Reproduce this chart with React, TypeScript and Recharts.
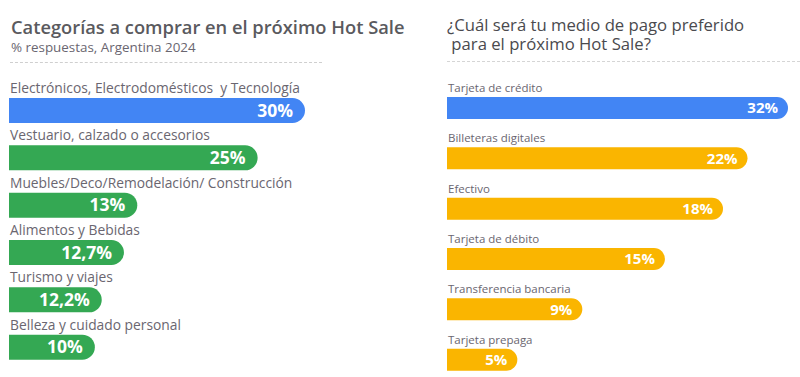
import React from "react";
import { BarChart, Bar, XAxis, YAxis, Cell, LabelList } from "recharts";

// Left panel: categories to buy
const leftCategories = [
  "Electrónicos, Electrodomésticos  y Tecnología",
  "Vestuario, calzado o accesorios",
  "Muebles/Deco/Remodelación/ Construcción",
  "Alimentos y Bebidas",
  "Turismo y viajes",
  "Belleza y cuidado personal",
];
// bar lengths as drawn in the picture
const leftBarLengths = [30, 25.2, 13, 11.65, 9.4, 8.7];
const leftLabels = ["30%", "25%", "13%", "12,7%", "12,2%", "10%"];

// Right panel: preferred payment method
const rightCategories = [
  "Tarjeta de crédito",
  "Billeteras digitales",
  "Efectivo",
  "Tarjeta de débito",
  "Transferencia bancaria",
  "Tarjeta prepaga",
];
const rightBarLengths = [32, 28.2, 25.9, 20.45, 12.7, 6.6];
const rightLabels = ["32%", "22%", "18%", "15%", "9%", "5%"];

const BLUE = "#4285F4";
const GREEN = "#34A853";
const YELLOW = "#FAB500";
const FONT = "'Open Sans', sans-serif";

const leftData = leftCategories.map((name, i) => ({
  name,
  value: leftBarLengths[i],
  label: leftLabels[i],
}));
const rightData = rightCategories.map((name, i) => ({
  name,
  value: rightBarLengths[i],
  label: rightLabels[i],
}));

const makeNameLabel = (fontSize: number, dy: number) => (props: any) => {
  const { x, y, value } = props;
  return (
    <text
      x={x + 1}
      y={y - dy}
      fontSize={fontSize}
      fill="#6a6670"
      fontFamily={FONT}
      style={{ whiteSpace: "pre" }}
    >
      {value}
    </text>
  );
};

const makeValueLabel = (fontSize: number, pad: number) => (props: any) => {
  const { x, y, width, height, value } = props;
  return (
    <text
      x={x + width - pad}
      y={y + height / 2}
      dy="0.36em"
      textAnchor="end"
      fontSize={fontSize}
      fontWeight={700}
      fill="#ffffff"
      fontFamily={FONT}
    >
      {value}
    </text>
  );
};

export default function App() {
  return (
    <div
      style={{
        position: "absolute",
        left: 0,
        top: 0,
        width: 800,
        height: 377,
        overflow: "hidden",
        background: "#ffffff",
        fontFamily: FONT,
      }}
    >
      {/* Left titles */}
      <div
        style={{
          position: "absolute",
          left: 11,
          top: 16,
          fontSize: 18.3,
          fontWeight: 600,
          color: "#5a5a5e",
          whiteSpace: "nowrap",
          lineHeight: "22px",
        }}
      >
        Categorías a comprar en el próximo Hot Sale
      </div>
      <div
        style={{
          position: "absolute",
          left: 11,
          top: 39,
          fontSize: 13.4,
          color: "#6a6670",
          whiteSpace: "nowrap",
          lineHeight: "16px",
        }}
      >
        % respuestas, Argentina 2024
      </div>
      <div
        style={{
          position: "absolute",
          left: 10,
          top: 62,
          width: 312,
          borderTop: "1px dashed #cfcfcf",
        }}
      />

      {/* Right titles */}
      <div
        style={{
          position: "absolute",
          left: 447,
          top: 15,
          fontSize: 16.7,
          fontWeight: 500,
          color: "#4a4a4e",
          whiteSpace: "pre",
          lineHeight: "19px",
        }}
      >
        {"¿Cuál será tu medio de pago preferido\n para el próximo Hot Sale?"}
      </div>
      <div
        style={{
          position: "absolute",
          left: 447,
          top: 61,
          width: 353,
          borderTop: "1px dashed #d5d5d5",
        }}
      />

      {/* Left chart */}
      <div style={{ position: "absolute", left: 0, top: 0 }}>
        <BarChart
          width={420}
          height={377}
          data={leftData}
          layout="vertical"
          margin={{ top: 87, right: 115, bottom: 6, left: 9 }}
          barCategoryGap={0}
        >
          <XAxis type="number" hide domain={[0, 30]} />
          <YAxis type="category" dataKey="name" hide />
          <Bar
            dataKey="value"
            barSize={25}
            radius={[0, 13, 13, 0]}
            isAnimationActive={false}
          >
            {leftData.map((d, i) => (
              <Cell key={d.name} fill={i === 0 ? BLUE : GREEN} />
            ))}
            <LabelList dataKey="name" content={makeNameLabel(13.8, 5)} />
            <LabelList dataKey="label" content={makeValueLabel(17.5, 12)} />
          </Bar>
        </BarChart>
      </div>

      {/* Right chart */}
      <div style={{ position: "absolute", left: 420, top: 0 }}>
        <BarChart
          width={380}
          height={385}
          data={rightData}
          layout="vertical"
          margin={{ top: 83, right: 12, bottom: 0, left: 27 }}
          barCategoryGap={0}
        >
          <XAxis type="number" hide domain={[0, 32]} />
          <YAxis type="category" dataKey="name" hide />
          <Bar
            dataKey="value"
            barSize={22}
            radius={[0, 11, 11, 0]}
            isAnimationActive={false}
          >
            {rightData.map((d, i) => (
              <Cell key={d.name} fill={i === 0 ? BLUE : YELLOW} />
            ))}
            <LabelList dataKey="name" content={makeNameLabel(11.5, 5)} />
            <LabelList dataKey="label" content={makeValueLabel(15, 10)} />
          </Bar>
        </BarChart>
      </div>
    </div>
  );
}
